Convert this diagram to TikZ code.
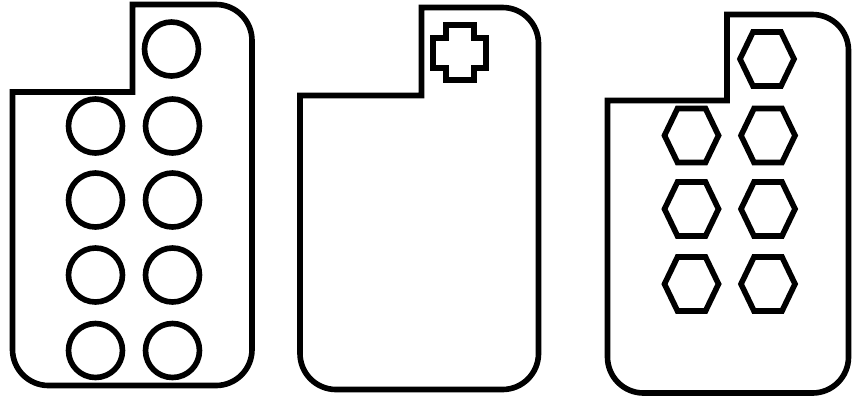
\documentclass[tikz,border=0pt]{standalone}
\usepackage{tikz}

\begin{document}
\begin{tikzpicture}[x=0.02cm, y=-0.02cm, line width=3.2pt,
    tray/.style={draw, line join=miter},
    pill/.style={circle, draw, minimum size=1.08cm, inner sep=0pt},
    mark line/.style={draw, line join=miter}]
  \useasboundingbox (0,0) rectangle (854,400);
  % round pills
  \draw[tray] (132.5,92) -- (12.5,92) [rounded corners=0.72cm] -- (12.5,385.5) -- (252,385.5) -- (252,4.5) [sharp corners] -- (132.5,4.5) -- cycle;
  \node[pill] (top) at (171.5,49) {};
  \foreach \r/\y in {1/126, 2/200, 3/275, 4/350.5} {
    \node[pill] (L\r) at (95.5,\y) {};
    \node[pill] (R\r) at (172.5,\y) {};
  }
  % empty pack with cross
  \draw[tray] (421.5,95.5) -- (300,95.5) [rounded corners=0.72cm] -- (300,389.5) -- (538.5,389.5) -- (538.5,7.5) [sharp corners] -- (421.5,7.5) -- cycle;
  \draw[mark line] (446,25) -- (474,25) -- (474,38) -- (486,38) -- (486,68) -- (474,68)
    -- (474,80) -- (446,80) -- (446,68) -- (433,68) -- (433,38) -- (446,38) -- cycle;
  % hexagon pills
  \draw[tray] (727,100.5) -- (607.5,100.5) [rounded corners=0.72cm] -- (607.5,393) -- (848.5,393) -- (848.5,14.5) [sharp corners] -- (727,14.5) -- cycle;
  \foreach \x/\y in {767/59, 691.5/135.5, 768/135.5, 691.5/209, 768/209, 691.5/284, 768/284}
    \draw[mark line] (\x,\y) +(-27,0) -- +(-14,-27) -- +(14,-27) -- +(27,0) -- +(14,27) -- +(-14,27) -- cycle;
\end{tikzpicture}
\end{document}
